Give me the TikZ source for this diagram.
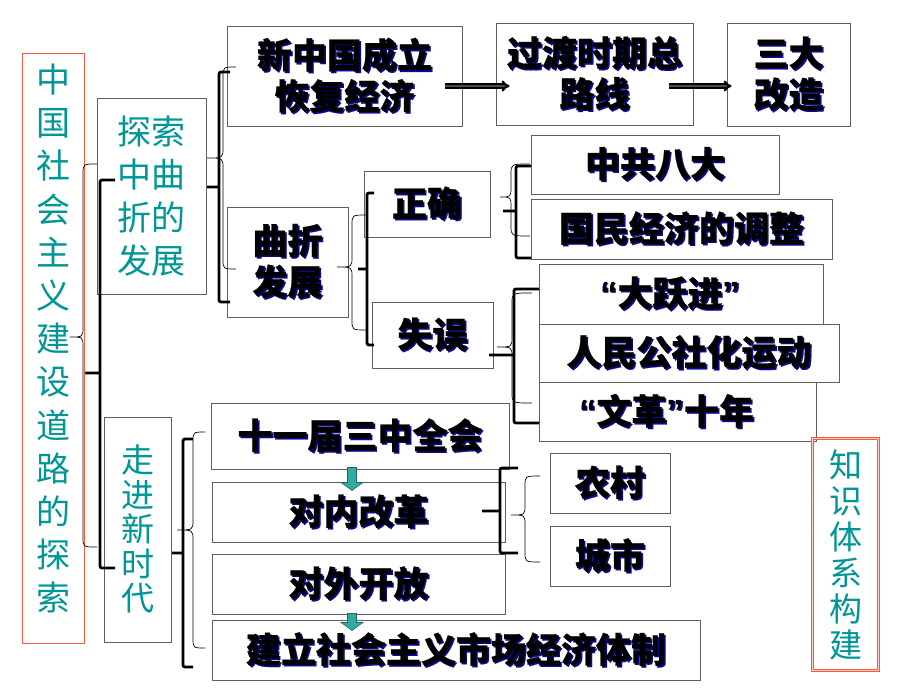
\documentclass[tikz,border=0pt]{standalone}
\usepackage{fontspec}
\newfontfamily\cjk{Noto Sans CJK SC}
\newfontfamily\latn{Liberation Sans}
\usetikzlibrary{arrows.meta}
\definecolor{tealtx}{RGB}{0,150,150}
\definecolor{redb}{RGB}{250,90,60}
\definecolor{redpale}{RGB}{255,205,195}
\definecolor{boxgray}{RGB}{95,95,95}
\definecolor{shadowblue}{RGB}{10,10,150}
\definecolor{arrteal}{RGB}{50,170,160}
\newcommand{\shd}[1]{\makebox[0pt][l]{\kern1.6pt\raisebox{-1.6pt}{\textcolor{shadowblue}{#1}}}#1}
% thin brace: tip x, tip y, spine x, top y, bottom y, end x
\newcommand{\curly}[6]{\draw[thinbr] (#6,#4) .. controls (#3,#4) .. (#3,{#4+10}) -- (#3,{#2-10})
  .. controls (#3,#2) .. (#1,#2) .. controls (#3,#2) .. (#3,{#2+10})
  -- (#3,{#5-10}) .. controls (#3,#5) .. (#6,#5);}
% thick bracket: tick x, tick y, spine x, top y, bottom y, end x
\newcommand{\sqbr}[6]{\draw[thickbr] (#6,#4) -- (#3,#4) -- (#3,#5) -- (#6,#5) (#1,#2) -- (#3,#2);}

\begin{document}
\begin{tikzpicture}[x=1pt,y=-1pt,
  box/.style={draw=boxgray, line width=0.9pt, inner sep=0pt, align=center,
    font=\cjk\bfseries\fontsize{35}{41}\selectfont\addfontfeature{FakeBold=0.5}},
  tbox/.style={draw=boxgray, line width=0.9pt, inner sep=0pt, align=center, text=tealtx,
    font=\cjk\fontsize{34}{43.2}\selectfont},
  thinbr/.style={line width=0.7pt},
  thickbr/.style={line width=2.8pt, rounded corners=2pt},
  dblarr/.style={double=black!70, double distance=1.3pt, line width=2.1pt,
    -{Implies[length=10pt,width=18pt]}},
  blkarr/.style={fill=arrteal, draw=arrteal!60!black, line width=0.6pt}]
\useasboundingbox (0,0) rectangle (920,690);

% left column
\node (main) at (53,348) [tbox, draw=redb, minimum width=62pt, minimum height=590pt] {中\\国\\社\\会\\主\\义\\建\\设\\道\\路\\的\\探\\索\\[-22pt]\mbox{}};
\node (tansuo) at (151.5,196) [tbox, minimum width=109pt, minimum height=196pt] {探索\\中曲\\折的\\发展};
\node (zoujin) at (137.5,529.5) [tbox, minimum width=67pt, minimum height=225pt,
  font=\cjk\fontsize{33}{34.5}\selectfont] {走\\进\\新\\时\\代};

% first period
\node (xzg) at (344.5,76) [box, minimum width=235pt, minimum height=100pt] {\shd{新中国成立}\\\shd{恢复经济}};
\node (guodu) at (594.5,74) [box, minimum width=197pt, minimum height=102pt] {\shd{过渡时期总}\\\shd{路线}};
\node (sanda) at (788.5,74.5) [box, minimum width=123pt, minimum height=103pt] {\shd{三大}\\\shd{改造}};
\node (quzhe) at (287.5,262) [box, minimum width=121pt, minimum height=110pt] {\shd{曲折}\\\shd{发展}};
\node (zhengque) at (427,204) [box, minimum width=126pt, minimum height=66pt] {\shd{正确}};
\node (shiwu) at (432.5,335) [box, minimum width=121pt, minimum height=66pt] {\shd{失误}};
\node (bada) at (655,164.5) [box, minimum width=248pt, minimum height=59pt] {\shd{中共八大}};
\node (tiaozheng) at (681.5,229) [box, minimum width=301pt, minimum height=60pt] {\shd{国民经济的调整}};
\node (dayuejin) at (681,294) [box, minimum width=284pt, minimum height=60pt] {\shd{{\latn “}大跃进{\latn ”}}\hspace*{22pt}};
\node (gongshe) at (689,353) [box, minimum width=300pt, minimum height=58pt] {\shd{人民公社化运动}};
\node (wenge) at (677.5,411.5) [box, minimum width=277pt, minimum height=59pt] {\shd{{\latn “}文革{\latn ”}十年}\hspace*{22pt}};

% new era
\node (sanzhong) at (360,436) [box, minimum width=298pt, minimum height=66pt] {\shd{十一届三中全会}};
\node (duinei) at (358.5,512) [box, minimum width=293pt, minimum height=60pt] {\shd{对内改革}};
\node (duiwai) at (358.5,584) [box, minimum width=293pt, minimum height=60pt] {\shd{对外开放}};
\node (shichang) at (456,650) [box, minimum width=488pt, minimum height=60pt] {\shd{建立社会主义市场经济体制}};
\node (nongcun) at (610,483) [box, minimum width=120pt, minimum height=60pt] {\shd{农村}};
\node (chengshi) at (610,556) [box, minimum width=120pt, minimum height=60pt] {\shd{城市}};

\node (zhishi) at (845.5,554.5) [tbox, draw=redb, double=redpale, double distance=1.4pt, line width=0.7pt,
  minimum width=66pt, minimum height=232pt, font=\cjk\fontsize{33}{36}\selectfont] {知\\识\\体\\系\\构\\建};

% arrows
\draw[dblarr] ([xshift=-17pt,yshift=-10pt]xzg.east) -- ([xshift=14pt,yshift=-12pt]guodu.west);
\draw[dblarr] ([xshift=-24pt,yshift=-12pt]guodu.east) -- ([xshift=5pt,yshift=-11.5pt]sanda.west);
\draw[blkarr] ([xshift=-12.5pt,yshift=2pt]sanzhong.south) -- ++(9,0) -- ++(0,15) -- ++(6.5,0)
  -- ++(-11,8) -- ++(-11,-8) -- ++(6.5,0) -- cycle;
\draw[blkarr] ([xshift=-11pt,yshift=1pt]duiwai.south) -- ++(9,0) -- ++(0,9) -- ++(6.5,0)
  -- ++(-11,8) -- ++(-11,-8) -- ++(6.5,0) -- cycle;

% braces
\curly{70}{337}{83}{164}{547}{97}
\sqbr{85}{373}{100}{180}{568}{115}
\curly{207}{158}{223}{67}{269}{236}
\sqbr{207}{187}{219}{72}{302}{230}
\curly{337}{267}{352}{215}{330}{367}
\sqbr{358}{269}{367}{193}{345}{374}
\curly{500}{197}{511}{164}{236}{530}
\sqbr{503}{211}{516}{166}{258}{531}
\curly{497}{347}{512}{293}{403}{532}
\sqbr{489}{355}{514}{289}{423}{539}
\curly{177}{530}{193}{432}{648}{205}
\sqbr{172}{553}{183}{439}{667}{193}
\curly{511}{515}{525}{476}{562}{540}
\sqbr{482}{511}{500}{468}{553}{518}

\end{tikzpicture}
\end{document}
